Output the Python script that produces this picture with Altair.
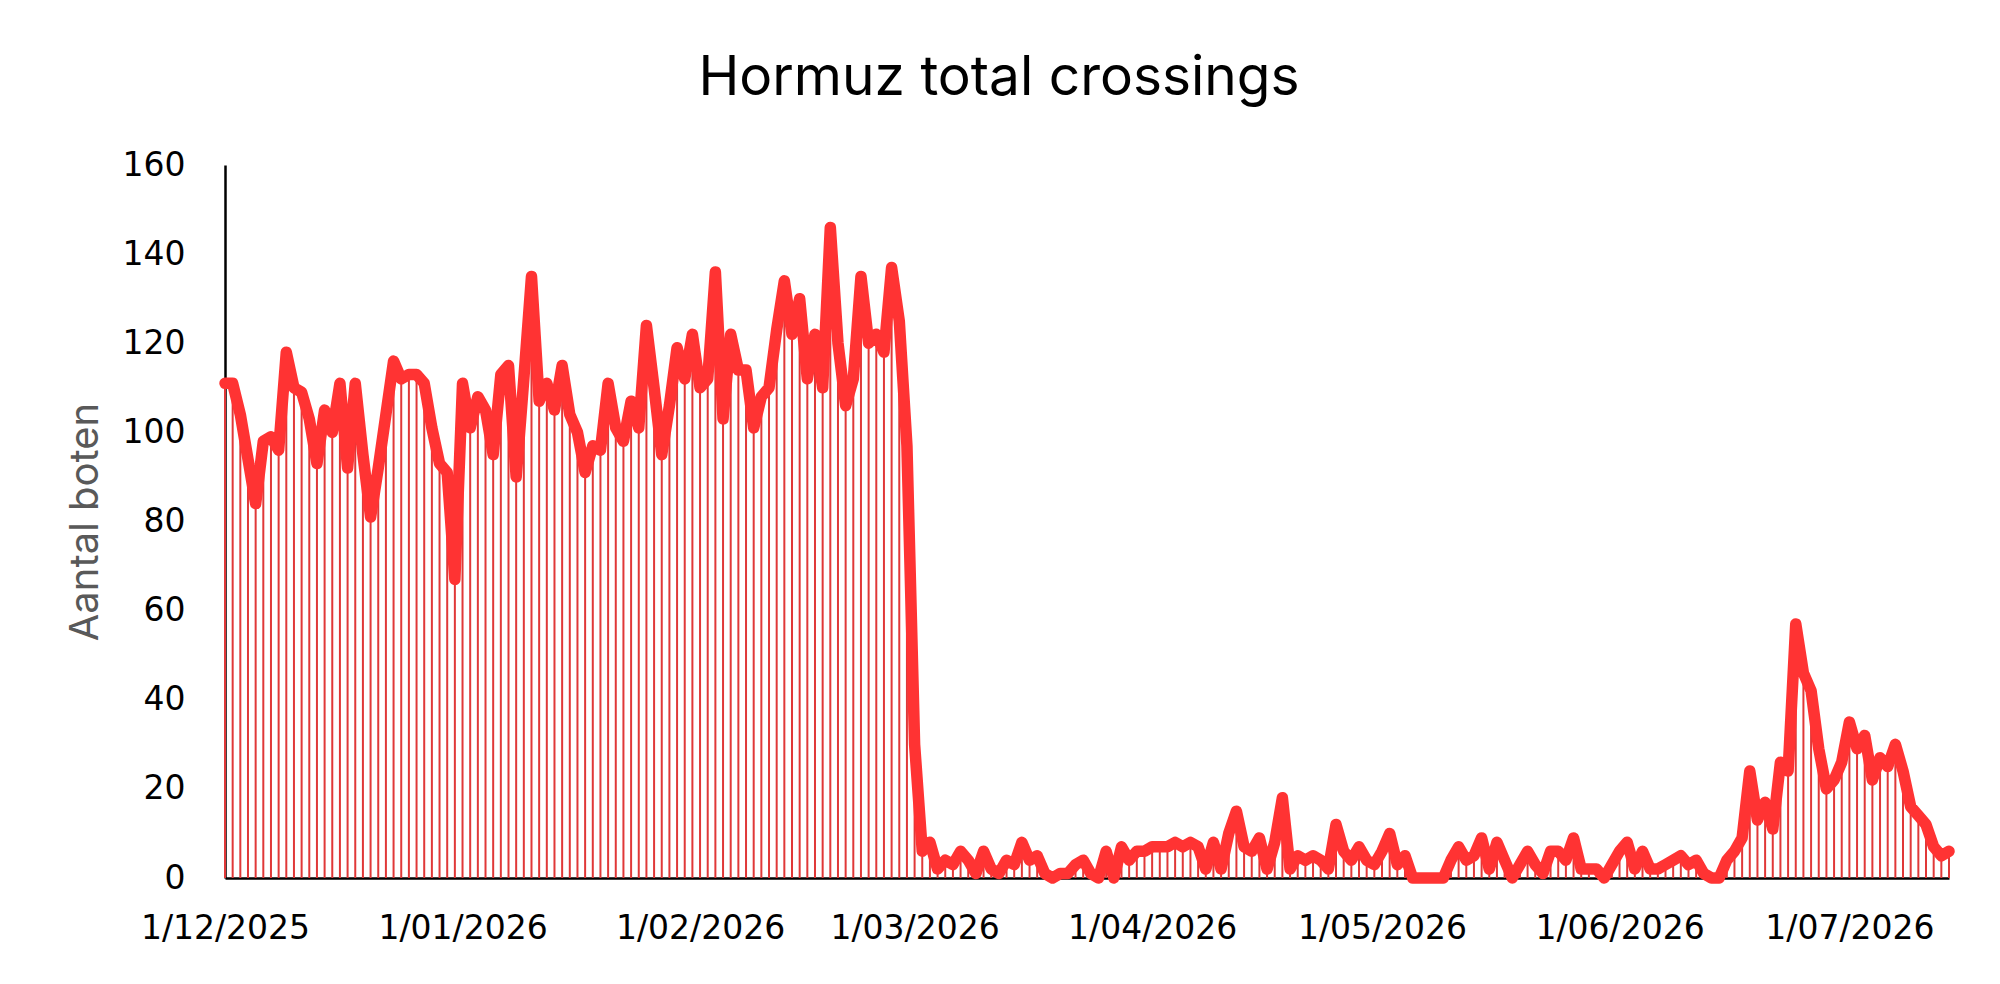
import altair as alt
import pandas as pd

start_date = "2025-12-01"

# daily number of boats (1 Dec 2025 .. 14 Jul 2026)
crossings = [
    # December 2025
    111, 111, 104, 94, 84, 98, 99, 96, 118, 110, 109, 103, 93, 105, 100, 111,
    92, 111, 95, 81, 92, 104, 116, 112, 113, 113, 111, 101, 93, 91, 67,
    # January 2026
    111, 101, 108, 105, 95, 113, 115, 90, 112, 135, 107, 111, 105, 115, 104, 100,
    91, 97, 96, 111, 101, 98, 107, 101, 124, 110, 95, 106, 119, 112, 122,
    # February 2026
    110, 112, 136, 103, 122, 114, 114, 101, 108, 110, 123, 134, 122, 130, 112, 122,
    110, 146, 120, 106, 112, 135, 120, 122, 118, 137, 125, 97,
    # March 2026
    30, 6, 8, 2, 4, 3, 6, 4, 1, 6, 2, 1, 4, 3, 8, 4,
    5, 1, 0, 1, 1, 3, 4, 1, 0, 6, 0, 7, 4, 6, 6,
    # April 2026
    7, 7, 7, 8, 7, 8, 7, 2, 8, 2, 10, 15, 7, 6, 9, 2,
    8, 18, 2, 5, 4, 5, 4, 2, 12, 6, 4, 7, 4, 3,
    # May 2026
    6, 10, 3, 5, 0, 0, 0, 0, 0, 4, 7, 4, 5, 9, 2, 8,
    4, 0, 3, 6, 3, 1, 6, 6, 4, 9, 2, 2, 2, 0, 3,
    # June 2026
    6, 8, 2, 6, 2, 2, 3, 4, 5, 3, 4, 1, 0, 0, 4, 6,
    9, 24, 13, 17, 11, 26, 24, 57, 46, 42, 29, 20, 22, 26,
    # July 2026
    35, 29, 32, 22, 27, 25, 30, 24, 16, 14, 12, 7, 5, 6,
]

month_ticks = [(2025, 12), (2026, 1), (2026, 2), (2026, 3),
               (2026, 4), (2026, 5), (2026, 6), (2026, 7)]
y_ticks = [0, 20, 40, 60, 80, 100, 120, 140, 160]

dates = pd.date_range(start_date, periods=len(crossings), freq="D").strftime("%Y-%m-%d")
df = pd.DataFrame({"date": list(dates), "boats": crossings})

TITLE_FONT = "Inter"
TICK_FONT = "DejaVu Sans"

x_enc = alt.X(
    "date:T",
    title=None,
    scale=alt.Scale(
        type="utc",
        domain=[alt.DateTime(year=2025, month=12, date=1, utc=True),
                alt.DateTime(year=2026, month=7, date=14, utc=True)],
    ),
    axis=alt.Axis(
        values=[alt.DateTime(year=y, month=m, date=1, utc=True) for y, m in month_ticks],
        labelExpr="utcFormat(datum.value, '%-d/%m/%Y')",
        labelFontSize=33,
        labelFont=TICK_FONT,
        labelColor="black",
        labelPadding=34,
        labelFlush=False,
        labelOverlap=False,
        ticks=False,
        grid=False,
        domainColor="black",
        domainWidth=2.5,
    ),
)

y_enc = alt.Y(
    "boats:Q",
    title="Aantal boten",
    scale=alt.Scale(domain=[0, 160], nice=False),
    axis=alt.Axis(
        values=y_ticks,
        labelFontSize=33,
        labelFont=TICK_FONT,
        labelColor="black",
        labelPadding=40,
        ticks=False,
        grid=False,
        domainColor="black",
        domainWidth=2.5,
        titleFont=TITLE_FONT,
        titleFontSize=40,
        titleFontWeight="normal",
        titleColor="#595959",
        titlePadding=17,
    ),
)

base = alt.Chart(df)

drops = base.mark_rule(color="#E03838", strokeWidth=2).encode(
    x=x_enc, y=y_enc, y2=alt.datum(0)
)

line = base.mark_line(
    color="#FF3333", strokeWidth=11.5, strokeCap="round", strokeJoin="round"
).encode(x=x_enc, y=y_enc)

chart = (
    alt.layer(drops, line)
    .properties(
        width=1724,
        height=713,
        autosize=alt.AutoSizeParams(type="none"),
        padding={"left": 217, "top": 157, "right": 30, "bottom": 90},
        background="white",
        title=alt.TitleParams(
            "Hormuz total crossings",
            font=TITLE_FONT,
            fontSize=55,
            fontWeight="normal",
            color="black",
            anchor="middle",
            baseline="alphabetic",
            offset=3,
            dx=-88,
            dy=4,
        ),
    )
    .configure_view(strokeWidth=0)
)

chart.save("out.html", embed_options={"renderer": "svg", "actions": False})
